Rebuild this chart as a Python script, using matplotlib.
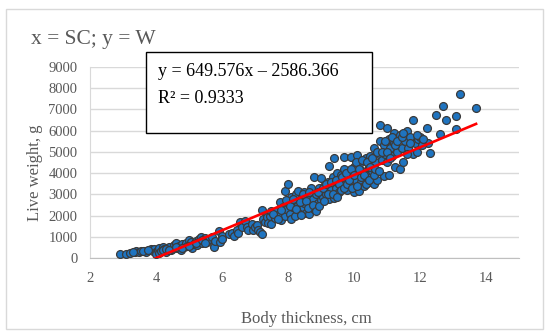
import matplotlib
matplotlib.use("Agg")
import matplotlib.pyplot as plt
from matplotlib.patches import Rectangle
import numpy as np

# body thickness (cm) and live weight (g)
thickness = [
    2.9, 3.1, 3.2, 3.35, 3.4, 3.5, 3.55, 3.65, 3.7, 3.8, 3.85, 3.9, 3.95, 4.0, 4.0,
    4.05, 4.1, 4.1, 4.15, 4.2, 4.25, 4.3, 4.35, 4.4, 4.45, 4.5,
    4.55, 4.6, 4.65, 4.7, 4.75, 4.8, 4.85, 4.9, 4.95, 5.0, 5.05, 5.1, 5.15, 5.2, 5.25,
    5.3, 5.35, 5.4, 5.45, 5.5, 5.55, 5.6, 5.7, 5.75, 5.8, 5.9, 5.95, 6.0, 6.0,
    6.2, 6.3, 6.35, 6.45, 6.5, 6.55, 6.6, 6.7, 6.75, 6.8, 6.9, 6.95, 7.0, 7.05, 7.1,
    7.15, 7.2, 7.2, 7.25, 7.3, 7.35, 7.4, 7.45, 7.5, 7.5,
    7.6, 7.65, 7.7, 7.75, 7.8, 7.85, 7.9, 7.9, 7.95, 8.0, 8.0, 8.05, 8.1, 8.1, 8.15,
    8.2, 8.2, 8.25, 8.3, 8.3, 8.35, 8.4, 8.45, 8.5, 8.5, 8.55, 8.6, 8.65, 8.7, 8.7,
    8.75, 8.8, 8.8, 8.85, 8.9, 8.95, 9.0, 9.0, 9.0,
    9.05, 9.1, 9.15, 9.2, 9.25, 9.25, 9.3, 9.35, 9.4, 9.4, 9.45, 9.5, 9.5, 9.55, 9.6,
    9.65, 9.7, 9.7, 9.75, 9.8, 9.85, 9.9, 9.9, 9.95, 10.0, 10.0, 10.05, 10.1, 10.1,
    10.15, 10.2, 10.2, 10.25, 10.3, 10.35, 10.4, 10.45, 10.5, 10.5, 10.55,
    10.6, 10.6, 10.65, 10.7, 10.75, 10.8, 10.8, 10.85, 10.9, 10.9, 10.95, 11.0, 11.0,
    11.05, 11.05, 11.1, 11.15, 11.2, 11.2, 11.25, 11.3, 11.35, 11.4, 11.4, 11.45, 11.5,
    11.55, 11.6, 11.65, 11.7, 11.8, 11.8, 11.85, 11.9, 11.95, 12.0,
    12.2, 12.25, 12.3, 12.5, 12.6, 12.7, 12.8, 13.1, 13.1, 13.2, 13.7,
    3.3, 3.6, 3.75, 4.2, 4.3, 4.4, 4.6, 4.8, 5.0, 5.2, 5.4, 5.5,
    7.55, 7.7, 7.8, 7.95, 8.05, 8.15, 8.25, 8.35, 8.4, 8.45, 8.55, 8.6, 8.65, 8.75,
    8.85, 8.9, 8.95, 9.05, 9.1, 9.15, 9.2, 9.3, 9.35, 9.45, 9.5, 9.55, 9.6, 9.65,
    9.7, 9.75, 9.8, 9.85, 9.9, 9.95, 10.0, 10.05, 10.1, 10.15, 10.2, 10.25, 10.3,
    10.35, 10.4, 10.45, 10.5, 10.55, 10.6, 10.65, 10.7, 10.75, 10.85, 10.95, 11.0,
    11.1, 11.15, 11.25, 11.3, 11.45, 11.5, 11.6, 11.7, 11.9, 12.05, 12.1,
]
weight = [
    200, 220, 250, 300, 350, 280, 330, 360, 300, 380, 420, 350, 450, 300, 180,
    400, 480, 250, 350, 520, 420, 300, 480, 550, 380, 450,
    620, 720, 500, 580, 380, 650, 550, 700, 600, 850, 750, 480, 680, 800, 620,
    900, 1000, 700, 850, 950, 780, 900, 1000, 550, 820, 1300, 780, 1050, 900,
    1150, 1180, 1050, 1350, 1200, 1700, 1450, 1750, 1450, 1350, 1600, 1340, 1450, 1550, 1350,
    1250, 1150, 2250, 1850, 1700, 1950, 1650, 2000, 1600, 2200,
    1900, 2200, 2050, 2650, 1800, 2400, 3150, 2000, 2300, 3500, 2600, 2100, 1850, 2900, 2400,
    2700, 2000, 3000, 2500, 3150, 2200, 2800, 2400, 3100, 2600, 2150, 2900, 2100, 3300, 2500,
    2800, 3800, 2300, 3000, 2600, 3300, 3750, 2750, 3100,
    2900, 3400, 3000, 3600, 4350, 2800, 3200, 3800, 4700, 2850, 3300, 3600, 4000, 3100, 3900,
    3400, 4750, 4200, 3600, 3200, 4000, 4750, 3500, 3800, 4300, 3100, 3700, 4850, 4000,
    3150, 4500, 3600, 4100, 3400, 4700, 3900, 4300, 4800, 3600, 4100,
    3500, 5200, 4500, 3700, 4900, 6250, 5500, 4600, 5300, 3850, 4900, 6100, 4500,
    5600, 3900, 5200, 4800, 5900, 5400, 4300, 5000, 5600, 5800, 4200, 5200, 4500,
    5500, 6000, 5200, 5700, 6500, 4900, 5400, 5000, 5600, 5700,
    6100, 5400, 4950, 6750, 5850, 7150, 6500, 6700, 6050, 7700, 7050,
    280, 320, 400, 380, 450, 400, 520, 480, 600, 720, 880, 700,
    2100, 1850, 2250, 2750, 2450, 2800, 2300, 2650, 2050, 3000, 2700, 2350, 3100, 2500,
    2200, 3100, 2450, 3300, 2700, 3500, 3000, 3600, 3000, 3700, 2900, 3500, 3200, 3800,
    3300, 4000, 3500, 3700, 4200, 3300, 3900, 4500, 3400, 4200, 3800, 4600, 3900,
    3500, 4500, 3700, 4300, 4700, 3900, 4200, 5000, 4100, 5000, 5500, 5000,
    4700, 5700, 5300, 5500, 5700, 5900, 4900, 5400, 5800, 5300, 5600,
]
slope = 649.576
intercept = -2586.366
r2 = 0.9333

serif = ["Liberation Serif", "DejaVu Serif"]
plt.rcParams["font.family"] = serif
gray = "#595959"

fig = plt.figure(figsize=(5.5, 3.36), dpi=100)
ax = fig.add_axes([0.1636, 0.2313, 0.78, 0.5702])

x = np.array(thickness)
y = np.array(weight)
ax.scatter(x, y, s=32, color="#1F74C0", edgecolors="#3A3A3A", linewidths=0.9, zorder=3)

xl = np.array([x.min(), x.max()])
ax.plot(xl, slope * xl + intercept, color="#FF0000", lw=1.9, zorder=4)

ax.set_xlim(2, 15)
ax.set_ylim(0, 9000)
ax.set_xticks(range(2, 15, 2))
ax.set_yticks(range(0, 9001, 1000))
ax.grid(axis="y", color="#D9D9D9", lw=1)
ax.set_axisbelow(True)
for s in ["top", "right"]:
    ax.spines[s].set_visible(False)
ax.spines["left"].set_color("#D9D9D9")
ax.spines["bottom"].set_color("#BFBFBF")
ax.tick_params(length=0, labelsize=10.5, labelcolor=gray)
ax.tick_params(axis="y", pad=9)
ax.tick_params(axis="x", pad=10)

fig.text(306 / 550, 1 - 319 / 336, "Body thickness, cm", fontsize=12, color=gray,
         ha="center", va="center")
fig.text(35 / 550, 1 - 173 / 336, "Live weight, g", fontsize=12, color=gray,
         ha="center", va="center", rotation=90)

fig.text(0.056, 0.881, "x = SC; y = W", fontsize=15.5, color=gray, va="center", ha="left")

# equation box
box = Rectangle((0.2655, 0.604), 0.4105, 0.241, transform=fig.transFigure,
                facecolor="white", edgecolor="black", lw=1, zorder=6, clip_on=False)
ax.add_patch(box)
ax.text(0.287, 0.786, f"y = {slope}x – {abs(intercept)}", transform=fig.transFigure,
        fontsize=13, va="center", ha="left", zorder=7)
ax.text(0.287, 0.708, f"R² = {r2}", transform=fig.transFigure,
        fontsize=13, va="center", ha="left", zorder=7)

# outer frame
fig.patches.append(Rectangle((0.0109, 0.0208), 0.976, 0.952, transform=fig.transFigure,
                             fill=False, edgecolor="#D9D9D9", lw=1))

fig.savefig("out.png", dpi=100)
